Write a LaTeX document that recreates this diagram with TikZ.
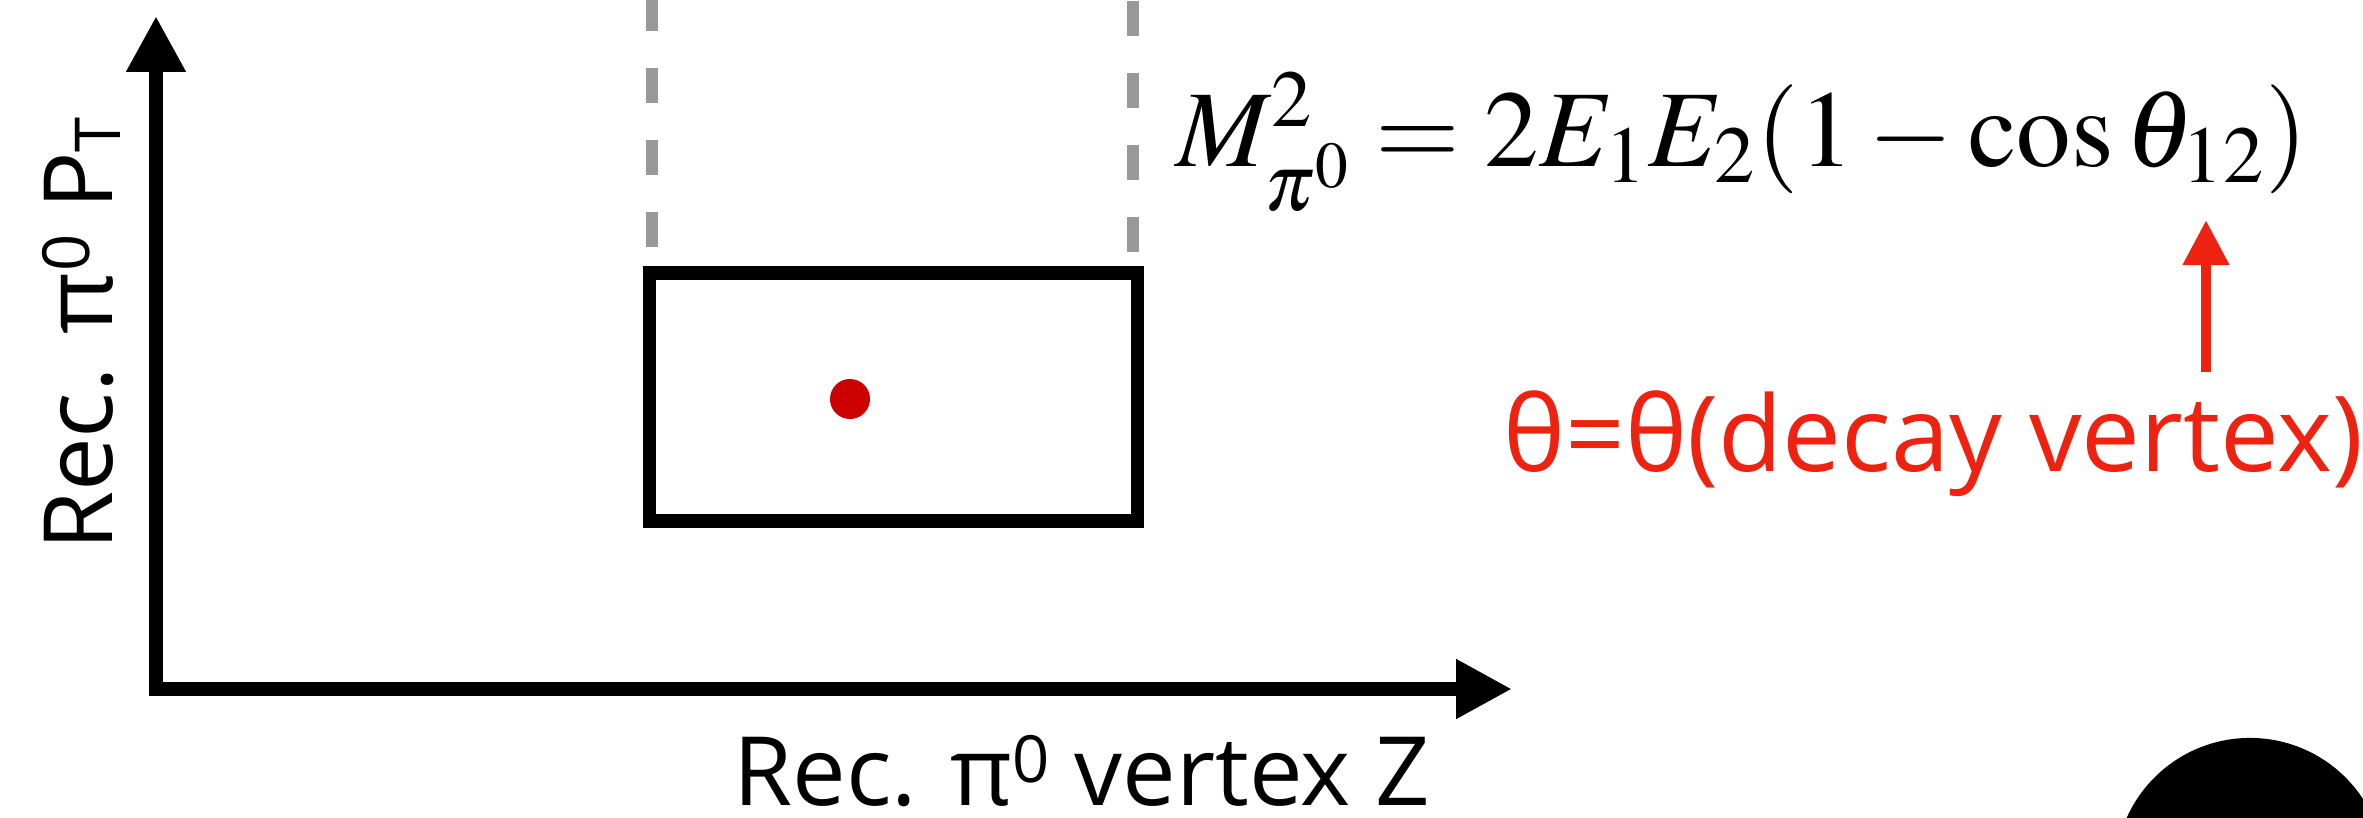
\documentclass[tikz,border=0pt]{standalone}
\usepackage{mathptmx}
\usepackage[no-math]{fontspec}
\setmainfont{Liberation Serif}
\newfontfamily\gillfont{Open Sans}
\usepackage{xcolor}
\usetikzlibrary{arrows.meta}

\definecolor{vtxred}{RGB}{204,0,0}
\definecolor{notered}{RGB}{238,34,17}
\definecolor{guidegray}{RGB}{153,153,153}
\newcommand\supzero{\raisebox{6.5pt}{\fontsize{18.5}{20}\selectfont 0}}
\newcommand\subT{\raisebox{-2.3pt}{\fontsize{18}{20}\selectfont T}}

\begin{document}
\begin{tikzpicture}[x=0.01cm, y=-0.01cm,
  axisline/.style={line width=4pt, line cap=rect, -{Triangle[length=15.9pt, width=15.9pt]}},
  guideline/.style={line width=3.4pt, color=guidegray, dash pattern=on 10pt off 10.5pt},
  axislabel/.style={font=\gillfont\fontsize{27.2}{33}\selectfont, inner sep=0pt}]
  \useasboundingbox (0,0) rectangle (2363,818);
  \clip (0,0) rectangle (2363,818);
  % axes
  \coordinate (origin) at (156,689);
  \coordinate (ytop) at (156,16);
  \coordinate (xend) at (1512,689);
  \draw[axisline] (origin) -- (ytop);
  \draw[axisline] (origin) -- (xend);
  \node[axislabel, anchor=base] (xlab) at (1082,805) {Rec. π\supzero{} vertex Z};
  \node[axislabel, rotate=90, anchor=base] (ylab) at (112,334) {Rec. π\supzero{} P\subT};
  % window and guides
  \draw[guideline] (652,247) -- (652,-10);
  \draw[guideline] (1133,252) -- (1133,-10);
  \draw[line width=3.7pt] (649,273) rectangle (1137,521);
  \fill[vtxred] (850,399) circle (0.2cm);
  % formula
  \node[font=\fontsize{31}{37}\selectfont, anchor=base, inner sep=0pt] (massformula) at (1742,166)
    {$M^2_{\pi^0} = 2E_1E_2(1-\cos\theta_{12})$};
  \node[axislabel, font=\gillfont\fontsize{29.8}{35}\selectfont, text=notered, anchor=base] (thetanote) at (1933,471) {θ=θ(decay vertex)};
  \coordinate (arrowfoot) at (2206,372);
  \coordinate (arrowtip) at (2206,220);
  \draw[line width=3pt, color=notered, -{Triangle[length=12.8pt, width=12.5pt]}] (arrowfoot) -- (arrowtip);
  \fill[black] (2250,873) circle (1.35cm);
\end{tikzpicture}
\end{document}
